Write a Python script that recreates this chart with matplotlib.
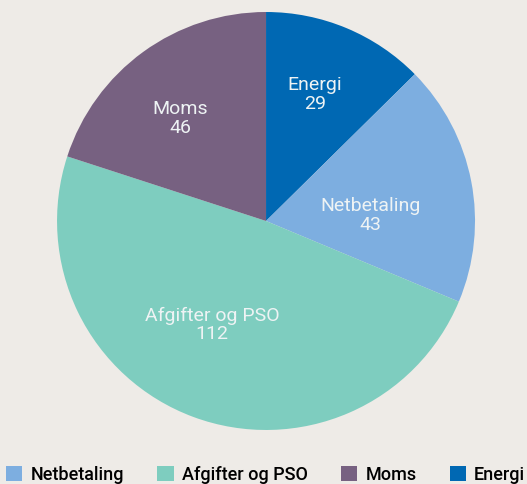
import matplotlib.pyplot as plt
import numpy as np
from matplotlib.patches import Patch

labels = ["Energi", "Netbetaling", "Afgifter og PSO", "Moms"]
values = [29, 43, 112, 46]
colors = ["#0068B3", "#7DAEE0", "#7ECDBF", "#776181"]
# label placement tweaks (radius fraction, angle shift in degrees)
label_dist = [0.65, 0.50, 0.56, 0.64]
label_shift = [1.5, -8, -7, 4]

legend_order = ["Netbetaling", "Afgifter og PSO", "Moms", "Energi"]

bg = "#EEEBE7"
plt.rcParams["font.family"] = ["Roboto", "DejaVu Sans"]

fig = plt.figure(figsize=(5.27, 4.84), dpi=100, facecolor=bg)
ax = fig.add_axes([0.1082, 0.1116, 0.7932, 0.8636])
ax.set_facecolor(bg)

wedges, _ = ax.pie(values, colors=colors, startangle=90, counterclock=False,
                   radius=1.0, wedgeprops=dict(linewidth=0))

for w, lab, val, d, s in zip(wedges, labels, values, label_dist, label_shift):
    ang = np.deg2rad((w.theta1 + w.theta2) / 2 + s)
    ax.text(d * np.cos(ang), d * np.sin(ang), f"{lab}\n{val}",
            ha="center", va="center", color="#EEF3F4", fontsize=14,
            fontweight="normal", linespacing=1.05)

ax.set_xlim(-1, 1)
ax.set_ylim(-1, 1)
ax.set_aspect("equal")
ax.axis("off")

handles = [Patch(facecolor=colors[labels.index(n)], edgecolor="none") for n in legend_order]
fig.legend(handles, legend_order, loc="lower left", bbox_to_anchor=(0.008, -0.003),
           ncol=4, frameon=False, handlelength=0.9, handleheight=0.9,
           handletextpad=0.45, columnspacing=1.85, borderaxespad=0, borderpad=0.1,
           prop=dict(weight="medium", size=13))

fig.savefig("out.png", dpi=100, facecolor=bg)
